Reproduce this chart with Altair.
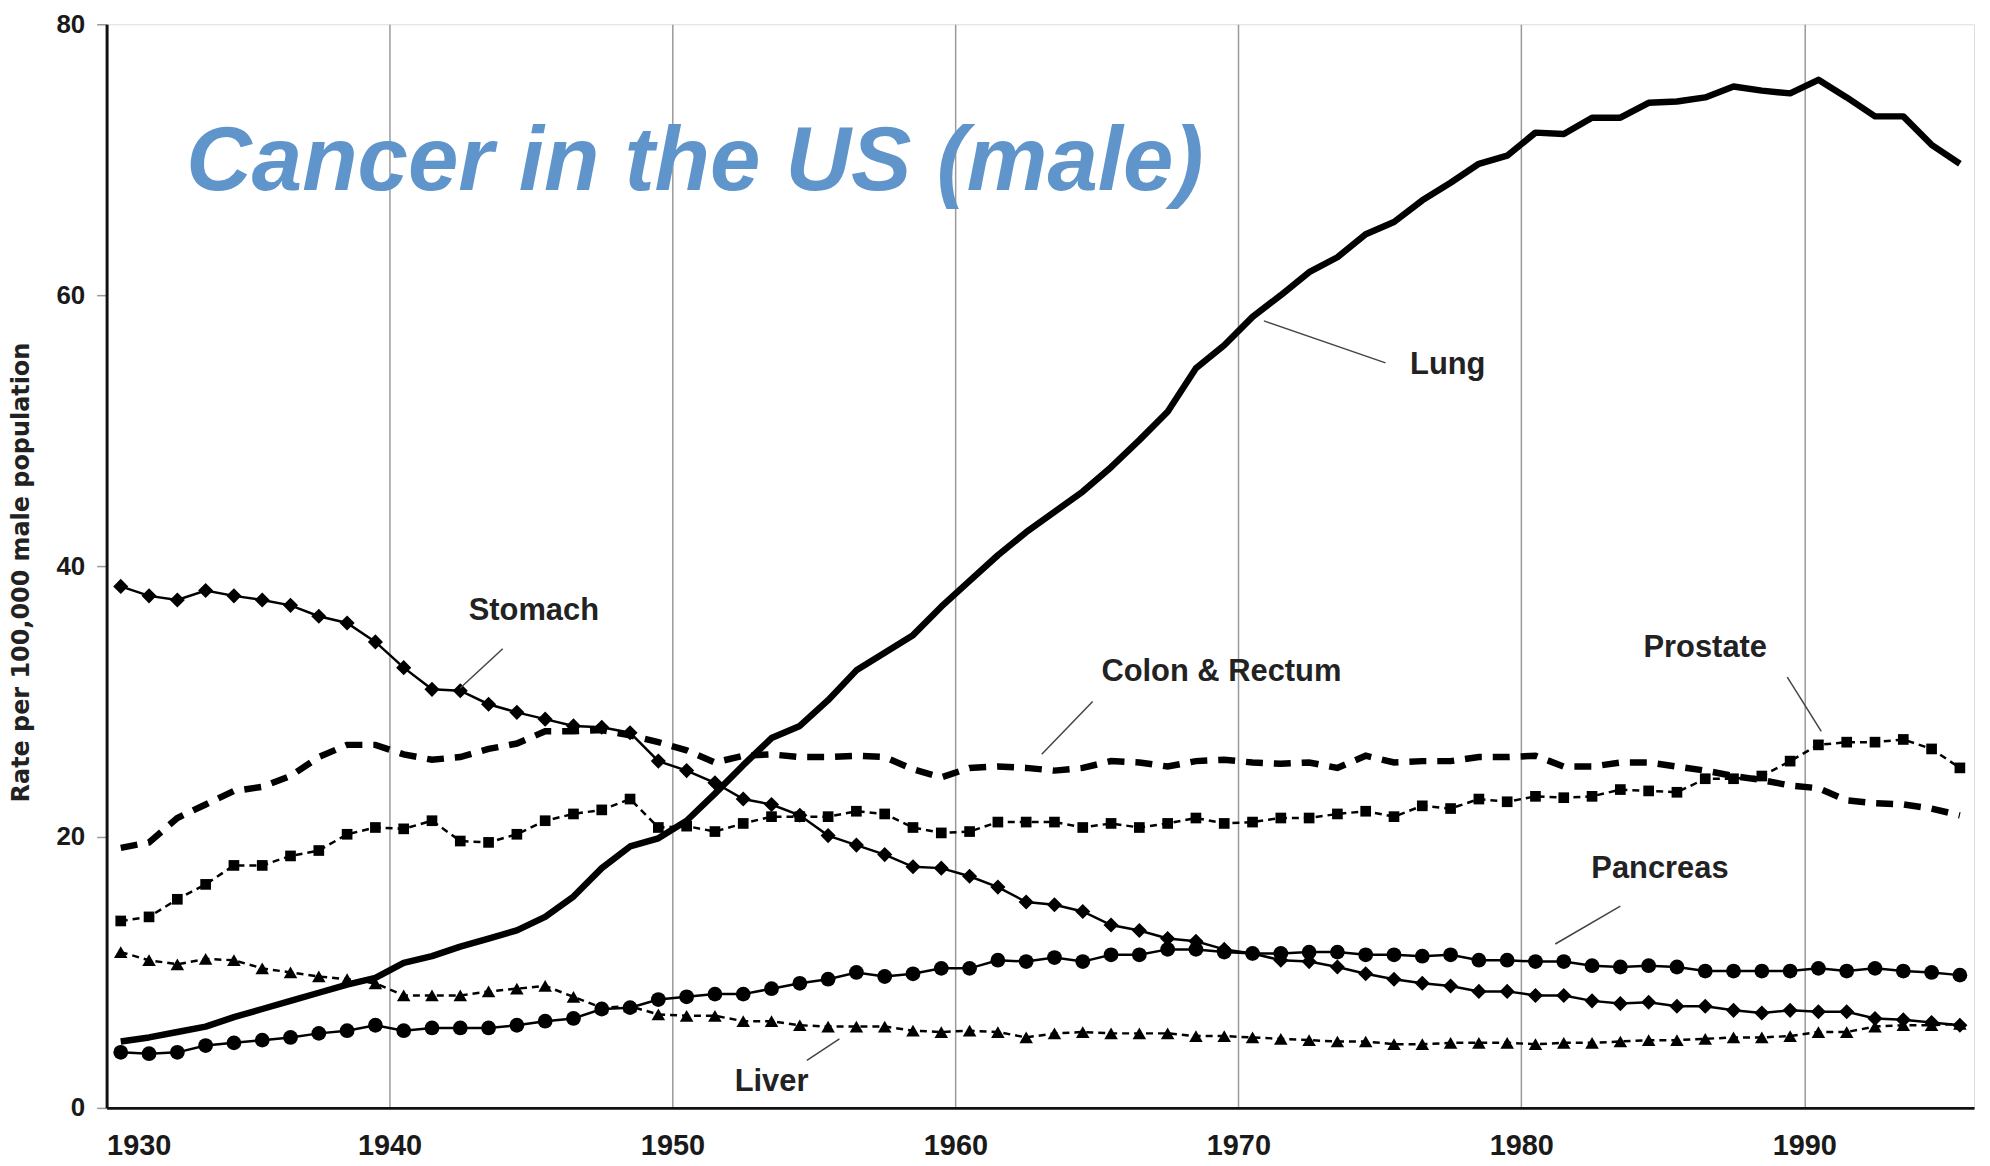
import altair as alt
import pandas as pd

years = list(range(1930, 1996))

lung = [4.9, 5.2, 5.6, 6.0, 6.7, 7.3, 7.9, 8.5, 9.1, 9.6,
        10.7, 11.2, 11.9, 12.5, 13.1, 14.1, 15.6, 17.7, 19.3, 19.9,
        21.2, 23.2, 25.3, 27.3, 28.2, 30.1, 32.3, 33.6, 34.9, 37.0,
        38.9, 40.8, 42.5, 44.0, 45.5, 47.3, 49.3, 51.4, 54.6, 56.3,
        58.4, 60.0, 61.7, 62.8, 64.5, 65.4, 67.0, 68.3, 69.7, 70.3,
        72.0, 71.9, 73.1, 73.1, 74.2, 74.3, 74.6, 75.4, 75.1, 74.9,
        75.9, 74.6, 73.2, 73.2, 71.1, 69.7]

stomach = [38.5, 37.8, 37.5, 38.2, 37.8, 37.5, 37.1, 36.3, 35.8, 34.4,
           32.5, 30.9, 30.8, 29.8, 29.2, 28.7, 28.2, 28.1, 27.7, 25.6,
           24.9, 24.0, 22.8, 22.4, 21.6, 20.1, 19.4, 18.7, 17.8, 17.7,
           17.1, 16.3, 15.2, 15.0, 14.5, 13.5, 13.1, 12.5, 12.3, 11.7,
           11.4, 10.9, 10.8, 10.4, 9.9, 9.5, 9.2, 9.0, 8.6, 8.6,
           8.3, 8.3, 7.9, 7.7, 7.8, 7.5, 7.5, 7.2, 7.0, 7.2,
           7.1, 7.1, 6.6, 6.5, 6.3, 6.1]

colon = [19.2, 19.6, 21.4, 22.4, 23.4, 23.7, 24.5, 25.9, 26.8, 26.8,
         26.1, 25.7, 25.9, 26.5, 26.9, 27.8, 27.8, 27.9, 27.5, 27.0,
         26.4, 25.5, 26.0, 26.1, 25.9, 25.9, 26.0, 25.9, 25.0, 24.4,
         25.1, 25.2, 25.1, 24.9, 25.1, 25.6, 25.5, 25.2, 25.6, 25.7,
         25.5, 25.4, 25.5, 25.1, 26.0, 25.5, 25.6, 25.6, 25.9, 25.9,
         26.0, 25.2, 25.2, 25.5, 25.5, 25.2, 24.9, 24.5, 24.2, 23.8,
         23.6, 22.7, 22.5, 22.4, 22.1, 21.6]

prostate = [13.8, 14.1, 15.4, 16.5, 17.9, 17.9, 18.6, 19.0, 20.2, 20.7,
            20.6, 21.2, 19.7, 19.6, 20.2, 21.2, 21.7, 22.0, 22.8, 20.7,
            20.8, 20.4, 21.0, 21.5, 21.5, 21.5, 21.9, 21.7, 20.7, 20.3,
            20.4, 21.1, 21.1, 21.1, 20.7, 21.0, 20.7, 21.0, 21.4, 21.0,
            21.1, 21.4, 21.4, 21.7, 21.9, 21.5, 22.3, 22.1, 22.8, 22.6,
            23.0, 22.9, 23.0, 23.5, 23.4, 23.3, 24.3, 24.3, 24.5, 25.6,
            26.8, 27.0, 27.0, 27.2, 26.5, 25.1]

pancreas = [4.1, 4.0, 4.1, 4.6, 4.8, 5.0, 5.2, 5.5, 5.7, 6.1,
            5.7, 5.9, 5.9, 5.9, 6.1, 6.4, 6.6, 7.3, 7.4, 8.0,
            8.2, 8.4, 8.4, 8.8, 9.2, 9.5, 10.0, 9.7, 9.9, 10.3,
            10.3, 10.9, 10.8, 11.1, 10.8, 11.3, 11.3, 11.7, 11.7, 11.5,
            11.4, 11.4, 11.5, 11.5, 11.3, 11.3, 11.2, 11.3, 10.9, 10.9,
            10.8, 10.8, 10.5, 10.4, 10.5, 10.4, 10.1, 10.1, 10.1, 10.1,
            10.3, 10.1, 10.3, 10.1, 10.0, 9.8]

liver = [11.5, 10.9, 10.6, 11.0, 10.9, 10.3, 10.0, 9.7, 9.5, 9.2,
         8.3, 8.3, 8.3, 8.6, 8.8, 9.0, 8.2, 7.4, 7.5, 6.9,
         6.8, 6.8, 6.4, 6.4, 6.1, 6.0, 6.0, 6.0, 5.7, 5.6,
         5.7, 5.6, 5.2, 5.5, 5.6, 5.5, 5.5, 5.5, 5.3, 5.3,
         5.2, 5.1, 5.0, 4.9, 4.9, 4.7, 4.7, 4.8, 4.8, 4.8,
         4.7, 4.8, 4.8, 4.9, 5.0, 5.0, 5.1, 5.2, 5.2, 5.3,
         5.6, 5.6, 6.0, 6.1, 6.1, 6.2]

x_ticks = [1930, 1940, 1950, 1960, 1970, 1980, 1990]
y_ticks = [0, 20, 40, 60, 80]

label_text = ["Lung", "Stomach", "Colon & Rectum", "Prostate", "Pancreas", "Liver"]
label_x = [1977.4, 1945.1, 1969.4, 1986.5, 1984.9, 1953.5]
label_y = [54.2, 36.0, 31.5, 33.3, 17.0, 1.25]

lead_x = [1970.9, 1944.0, 1964.85, 1989.4, 1983.5, 1955.9]
lead_y = [58.1, 33.9, 30.0, 31.8, 14.9, 5.1]
lead_x2 = [1975.2, 1942.5, 1963.05, 1990.6, 1981.2, 1954.75]
lead_y2 = [55.0, 31.0, 26.1, 27.8, 12.1, 3.5]

series = {"Lung": lung, "Stomach": stomach, "Colon & Rectum": colon,
          "Prostate": prostate, "Pancreas": pancreas, "Liver": liver}
rows = []
for name, vals in series.items():
    for yr, v in zip(years, vals):
        rows.append({"year": yr, "site": name, "rate": v})
df = pd.DataFrame(rows)

labels_df = pd.DataFrame({"text": label_text, "lx": label_x, "ly": label_y})
leads_df = pd.DataFrame({"ax": lead_x, "ay": lead_y, "ax2": lead_x2, "ay2": lead_y2})

x_scale = alt.Scale(domain=[1930, 1996], nice=False, zero=False)
y_scale = alt.Scale(domain=[0, 80], nice=False)

x_axis = alt.Axis(values=x_ticks, format="d", grid=True, gridColor="#9a9a9a",
                  gridWidth=1.5, domain=True, domainColor="#111", domainWidth=3,
                  ticks=False, labelFont="Liberation Sans", labelFontSize=29,
                  labelFontWeight="bold", labelColor="#1a1a1a", labelPadding=24,
                  labelFlush=True, title=None)
y_axis = alt.Axis(values=y_ticks, grid=False, domain=True, domainColor="#111",
                  domainWidth=3, ticks=True, tickSize=10, tickColor="#999",
                  tickWidth=1.5, labelFont="Liberation Sans", labelFontSize=26,
                  labelFontWeight="bold", labelColor="#1a1a1a", labelPadding=12,
                  title="Rate per 100,000 male population",
                  titleFont="DejaVu Sans", titleFontSize=24, titleFontWeight="bold",
                  titleColor="#222", titleAngle=270, titleX=-85, titleY=550,
                  titleAlign="center", titleBaseline="middle")


def X(field):
    return alt.X(field, type="quantitative", scale=x_scale, axis=x_axis)


def Y(field):
    return alt.Y(field, type="quantitative", scale=y_scale, axis=y_axis)


base = alt.Chart(df).transform_calculate(xpos="datum.year + 0.5")


def site(name):
    return base.transform_filter(alt.datum.site == name)


lung_l = site("Lung").mark_line(color="black", strokeWidth=6.5, strokeJoin="round").encode(
    x=X("xpos"), y=Y("rate"))
colon_l = site("Colon & Rectum").mark_line(color="black", strokeWidth=6.5,
                                          strokeDash=[17, 11]).encode(x=X("xpos"), y=Y("rate"))

stom_l = site("Stomach").mark_line(color="black", strokeWidth=2.5).encode(x=X("xpos"), y=Y("rate"))
stom_p = site("Stomach").mark_point(shape="diamond", filled=True, size=230, color="black",
                                    opacity=1).encode(x=X("xpos"), y=Y("rate"))

pros_l = site("Prostate").mark_line(color="black", strokeWidth=2.5, strokeDash=[7, 5]).encode(
    x=X("xpos"), y=Y("rate"))
pros_p = site("Prostate").mark_point(shape="square", filled=True, size=115, color="black",
                                     opacity=1).encode(x=X("xpos"), y=Y("rate"))

panc_l = site("Pancreas").mark_line(color="black", strokeWidth=2.5).encode(x=X("xpos"), y=Y("rate"))
panc_p = site("Pancreas").mark_point(shape="circle", filled=True, size=220, color="black",
                                     opacity=1).encode(x=X("xpos"), y=Y("rate"))

liv_l = site("Liver").mark_line(color="black", strokeWidth=2.5, strokeDash=[7, 5]).encode(
    x=X("xpos"), y=Y("rate"))
liv_p = site("Liver").mark_point(shape="triangle-up", filled=True, size=185, color="black",
                                 opacity=1).encode(x=X("xpos"), y=Y("rate"))

leads = alt.Chart(leads_df).mark_rule(color="#444", strokeWidth=1.5).encode(
    x=X("ax"), y=Y("ay"), x2="ax2", y2="ay2")

texts = alt.Chart(labels_df).mark_text(font="Liberation Sans", fontSize=31, fontWeight="bold",
                                       color="#222", align="center",
                                       baseline="alphabetic").encode(
    x=X("lx"), y=Y("ly"), text="text:N")

chart = alt.layer(
    colon_l, pros_l, pros_p, stom_l, stom_p, panc_l, panc_p, liv_l, liv_p, lung_l,
    leads, texts
).properties(
    width=1875, height=1088,
    autosize=alt.AutoSizeParams(type="none"),
    padding={"left": 99, "top": 14, "right": 8, "bottom": 50},
    title=alt.TitleParams("Cancer in the US (male)", anchor="start", frame="group",
                          orient="top", offset=0, dx=80, dy=270, baseline="alphabetic",
                          font="Liberation Sans", fontSize=91, fontStyle="italic",
                          fontWeight="bold", color="#5F95CA"),
).configure_view(stroke="#555", strokeWidth=3).configure(background="white")

chart.save("out.html", embed_options={"renderer": "svg", "actions": False})
